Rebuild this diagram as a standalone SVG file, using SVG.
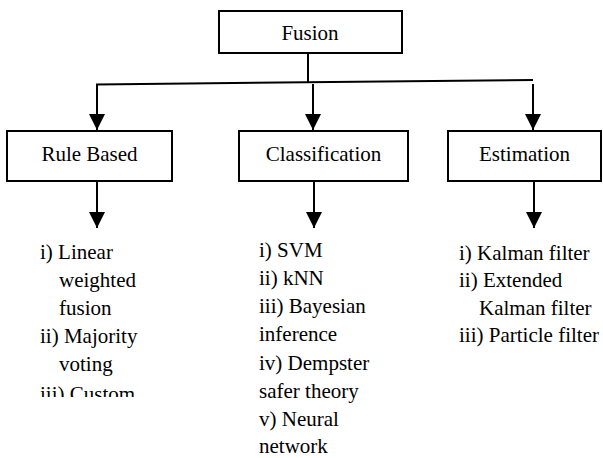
<svg xmlns="http://www.w3.org/2000/svg" width="603" height="458" viewBox="0 0 603 458">
<style>
.box{fill:#fff;stroke:#000;stroke-width:2}
.t{font-family:'Liberation Serif','Times New Roman',Tinos,'Nimbus Roman','DejaVu Serif',serif;font-size:21px;fill:#000}
.c{text-anchor:middle}
.ln{fill:none;stroke:#000;stroke-width:2}
</style>
<defs>
<marker id="ah" viewBox="0 0 16 16" refX="16" refY="8" markerWidth="16" markerHeight="16" markerUnits="userSpaceOnUse" orient="auto">
<path d="M0,0 L16,8 L0,16 Z" fill="#000"/>
</marker>
<clipPath id="clipR"><rect x="0" y="0" width="603" height="397"/></clipPath>
</defs>
<g id="connectors">
<line class="ln" x1="308" y1="53" x2="308" y2="83"/>
<line class="ln" x1="96" y1="84.5" x2="533" y2="80"/>
<line class="ln" x1="97" y1="84" x2="97" y2="130" marker-end="url(#ah)"/>
<line class="ln" x1="313" y1="84" x2="313" y2="130" marker-end="url(#ah)"/>
<line class="ln" x1="533" y1="84" x2="533" y2="130" marker-end="url(#ah)"/>
<line class="ln" x1="97" y1="181" x2="97" y2="228" marker-end="url(#ah)"/>
<line class="ln" x1="314" y1="181" x2="314" y2="228" marker-end="url(#ah)"/>
<line class="ln" x1="534" y1="181" x2="534" y2="228" marker-end="url(#ah)"/>
</g>
<g id="fusion">
<rect class="box" x="219" y="11" width="183" height="42"/>
<text class="t c" x="310" y="40" font-family="Liberation Serif, serif">Fusion</text>
</g>
<g id="rule-based">
<rect class="box" x="7" y="131" width="165" height="50"/>
<text class="t c" x="89.5" y="161">Rule Based</text>
</g>
<g id="classification">
<rect class="box" x="239" y="131" width="169" height="50"/>
<text class="t c" x="323.5" y="161">Classification</text>
</g>
<g id="estimation">
<rect class="box" x="448" y="131" width="153" height="50"/>
<text class="t c" x="524.5" y="161">Estimation</text>
</g>
<g id="rule-list">
<text class="t" x="40" y="259">i) Linear</text>
<text class="t" x="59" y="287">weighted</text>
<text class="t" x="59" y="315">fusion</text>
<text class="t" x="40" y="343">ii) Majority</text>
<text class="t" x="59" y="371">voting</text>
<text class="t" x="40" y="401" clip-path="url(#clipR)">iii) Custom</text>
</g>
<g id="class-list">
<text class="t" x="259" y="257">i) SVM</text>
<text class="t" x="259" y="285">ii) kNN</text>
<text class="t" x="259" y="313">iii) Bayesian</text>
<text class="t" x="259" y="341">inference</text>
<text class="t" x="259" y="370">iv) Dempster</text>
<text class="t" x="259" y="398">safer theory</text>
<text class="t" x="259" y="426">v) Neural</text>
<text class="t" x="259" y="453">network</text>
</g>
<g id="est-list">
<text class="t" x="459" y="260">i) Kalman filter</text>
<text class="t" x="459" y="287">ii) Extended</text>
<text class="t" x="479" y="315">Kalman filter</text>
<text class="t" x="459" y="342">iii) Particle filter</text>
</g>
</svg>
